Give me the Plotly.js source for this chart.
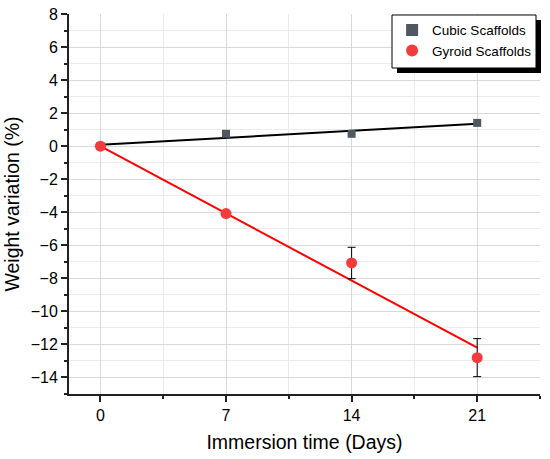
<!DOCTYPE html>
<html>
<head>
<meta charset="utf-8">
<script src="https://cdn.plot.ly/plotly-3.0.1.min.js"></script>
<style>html,body{margin:0;padding:0;background:#fff;}#chart{width:550px;height:459px;}</style>
</head>
<body>
<div id="chart"></div>
<script>
const days = [0, 7, 14, 21];
const cubicWeight = [0.0, 0.75, 0.75, 1.41];
const cubicErr = [0.08, 0.15, 0.12, 0.15];
const gyroidWeight = [0.0, -4.08, -7.07, -12.8];
const gyroidErr = [0.1, 0.15, 0.95, 1.15];
const fitDays = [0, 21];
const cubicFit = [0.08, 1.35];
const gyroidFit = [0.0, -12.2];
const xTickVals = [0, 7, 14, 21];
const xTickText = ['0', '7', '14', '21'];

const traces = [
  {x: fitDays, y: cubicFit, mode: 'lines', line: {color: '#000000', width: 2}, showlegend: false, hoverinfo: 'skip'},
  {x: fitDays, y: gyroidFit, mode: 'lines', line: {color: '#ff0000', width: 2}, showlegend: false, hoverinfo: 'skip'},
  {x: days, y: cubicWeight, name: 'Cubic Scaffolds', mode: 'markers',
   marker: {symbol: 'square', size: 8, color: '#4f5760'},
   error_y: {type: 'data', array: cubicErr, visible: true, color: '#8aa4bf', thickness: 1, width: 3}},
  {x: days, y: gyroidWeight, name: 'Gyroid Scaffolds', mode: 'markers',
   marker: {symbol: 'circle', size: 11, color: '#f43c3c'},
   error_y: {type: 'data', array: gyroidErr, visible: true, color: '#000000', thickness: 1, width: 4}}
];

const layout = {
  width: 550, height: 459,
  margin: {l: 69, r: 10, t: 14, b: 65},
  paper_bgcolor: '#ffffff', plot_bgcolor: '#ffffff',
  font: {family: 'Liberation Sans, Arial, sans-serif', color: '#000'},
  xaxis: {
    range: [-1.75, 24.5], tickvals: xTickVals, ticktext: xTickText,
    ticks: 'outside', ticklen: 6, tickwidth: 2, tickcolor: '#222',
    showline: true, linecolor: '#222', linewidth: 2, mirror: false,
    showgrid: true, gridcolor: '#d9d9d9', gridwidth: 1, zeroline: false,
    tickfont: {size: 16},
    minor: {dtick: 3.5, tick0: 0, ticks: 'outside', ticklen: 3, tickwidth: 2, tickcolor: '#222', showgrid: true, gridcolor: '#ececec', gridwidth: 1},
    title: {text: 'Immersion time (Days)', font: {size: 19.5}, standoff: 12}
  },
  yaxis: {
    range: [-15, 8], dtick: 2, tick0: 0,
    ticks: 'outside', ticklen: 6, tickwidth: 2, tickcolor: '#222',
    showline: true, linecolor: '#222', linewidth: 2, mirror: false,
    showgrid: true, gridcolor: '#d9d9d9', gridwidth: 1, zeroline: false,
    tickfont: {size: 16},
    minor: {dtick: 1, tick0: 0, ticks: 'outside', ticklen: 3, tickwidth: 2, tickcolor: '#222', showgrid: true, gridcolor: '#ececec', gridwidth: 1},
    title: {text: 'Weight variation (%)', font: {size: 19.5}, standoff: 6}
  },
  legend: {
    x: 0.686, xanchor: 'left', y: 0.998, yanchor: 'top',
    bgcolor: 'rgba(0,0,0,0)', borderwidth: 0,
    font: {size: 13.5}, tracegroupgap: 0, itemsizing: 'constant',
    entrywidth: 133, entrywidthmode: 'pixels'
  },
  shapes: [
    {type: 'rect', xref: 'paper', yref: 'paper', x0: 0.6964, x1: 1.0021, y0: 0.8447, y1: 0.9842,
     fillcolor: '#000000', line: {width: 0}, layer: 'above'},
    {type: 'rect', xref: 'paper', yref: 'paper', x0: 0.6858, x1: 0.9915, y0: 0.8579, y1: 0.9974,
     fillcolor: '#ffffff', line: {width: 1, color: '#000000'}, layer: 'above'}
  ]
};

Plotly.newPlot('chart', traces, layout, {displayModeBar: false, staticPlot: true});
</script>
</body>
</html>
